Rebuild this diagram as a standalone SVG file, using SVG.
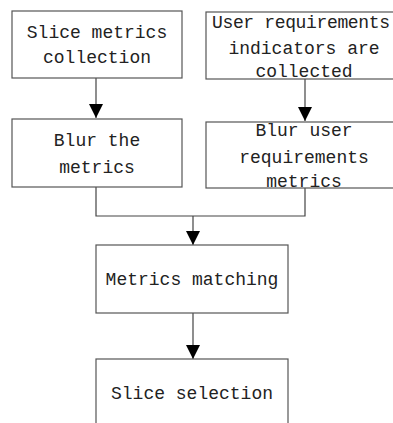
<svg xmlns="http://www.w3.org/2000/svg" width="393" height="423" viewBox="0 0 393 423">
<defs>
<style>
.box{fill:#fff;stroke:#555;stroke-width:1.2}
.t{font-family:"Liberation Mono","DejaVu Sans Mono",monospace;font-size:18px;fill:#222;text-anchor:middle}
.c{fill:none;stroke:#444;stroke-width:1.2}
</style>
<marker id="ah" markerWidth="14" markerHeight="14" refX="14" refY="7" orient="auto" markerUnits="userSpaceOnUse">
<path d="M0,0 L14,7 L0,14 Z" fill="#000"/>
</marker>
</defs>
<rect width="393" height="423" fill="#fff"/>
<g id="connectors">
<path class="c" d="M96,78 V118" marker-end="url(#ah)"/>
<path class="c" d="M305,79 V121" marker-end="url(#ah)"/>
<path class="c" d="M96,187 V216 H305 V188"/>
<path class="c" d="M193,216 V245" marker-end="url(#ah)"/>
<path class="c" d="M193,313 V359" marker-end="url(#ah)"/>
</g>
<g id="n1"><rect class="box" x="12" y="11" width="170" height="67"/>
<text class="t" x="97" y="38">Slice metrics</text><text class="t" x="97" y="63">collection</text></g>
<g id="n2"><rect class="box" x="206" y="12" width="192" height="67"/>
<text class="t" x="301" y="28" textLength="178" lengthAdjust="spacing">User requirements</text><text class="t" x="304" y="54">indicators are</text><text class="t" x="304" y="77">collected</text></g>
<g id="n3"><rect class="box" x="12" y="119" width="170" height="68"/>
<text class="t" x="97" y="146">Blur the</text><text class="t" x="97" y="173">metrics</text></g>
<g id="n4"><rect class="box" x="206" y="122" width="192" height="66"/>
<text class="t" x="304" y="136">Blur user</text><text class="t" x="304" y="163">requirements</text><text class="t" x="304" y="187">metrics</text></g>
<g id="n5"><rect class="box" x="96" y="245" width="192" height="68"/>
<text class="t" x="192" y="285">Metrics matching</text></g>
<g id="n6"><rect class="box" x="96" y="359" width="192" height="80"/>
<text class="t" x="192" y="399">Slice selection</text></g>
</svg>
